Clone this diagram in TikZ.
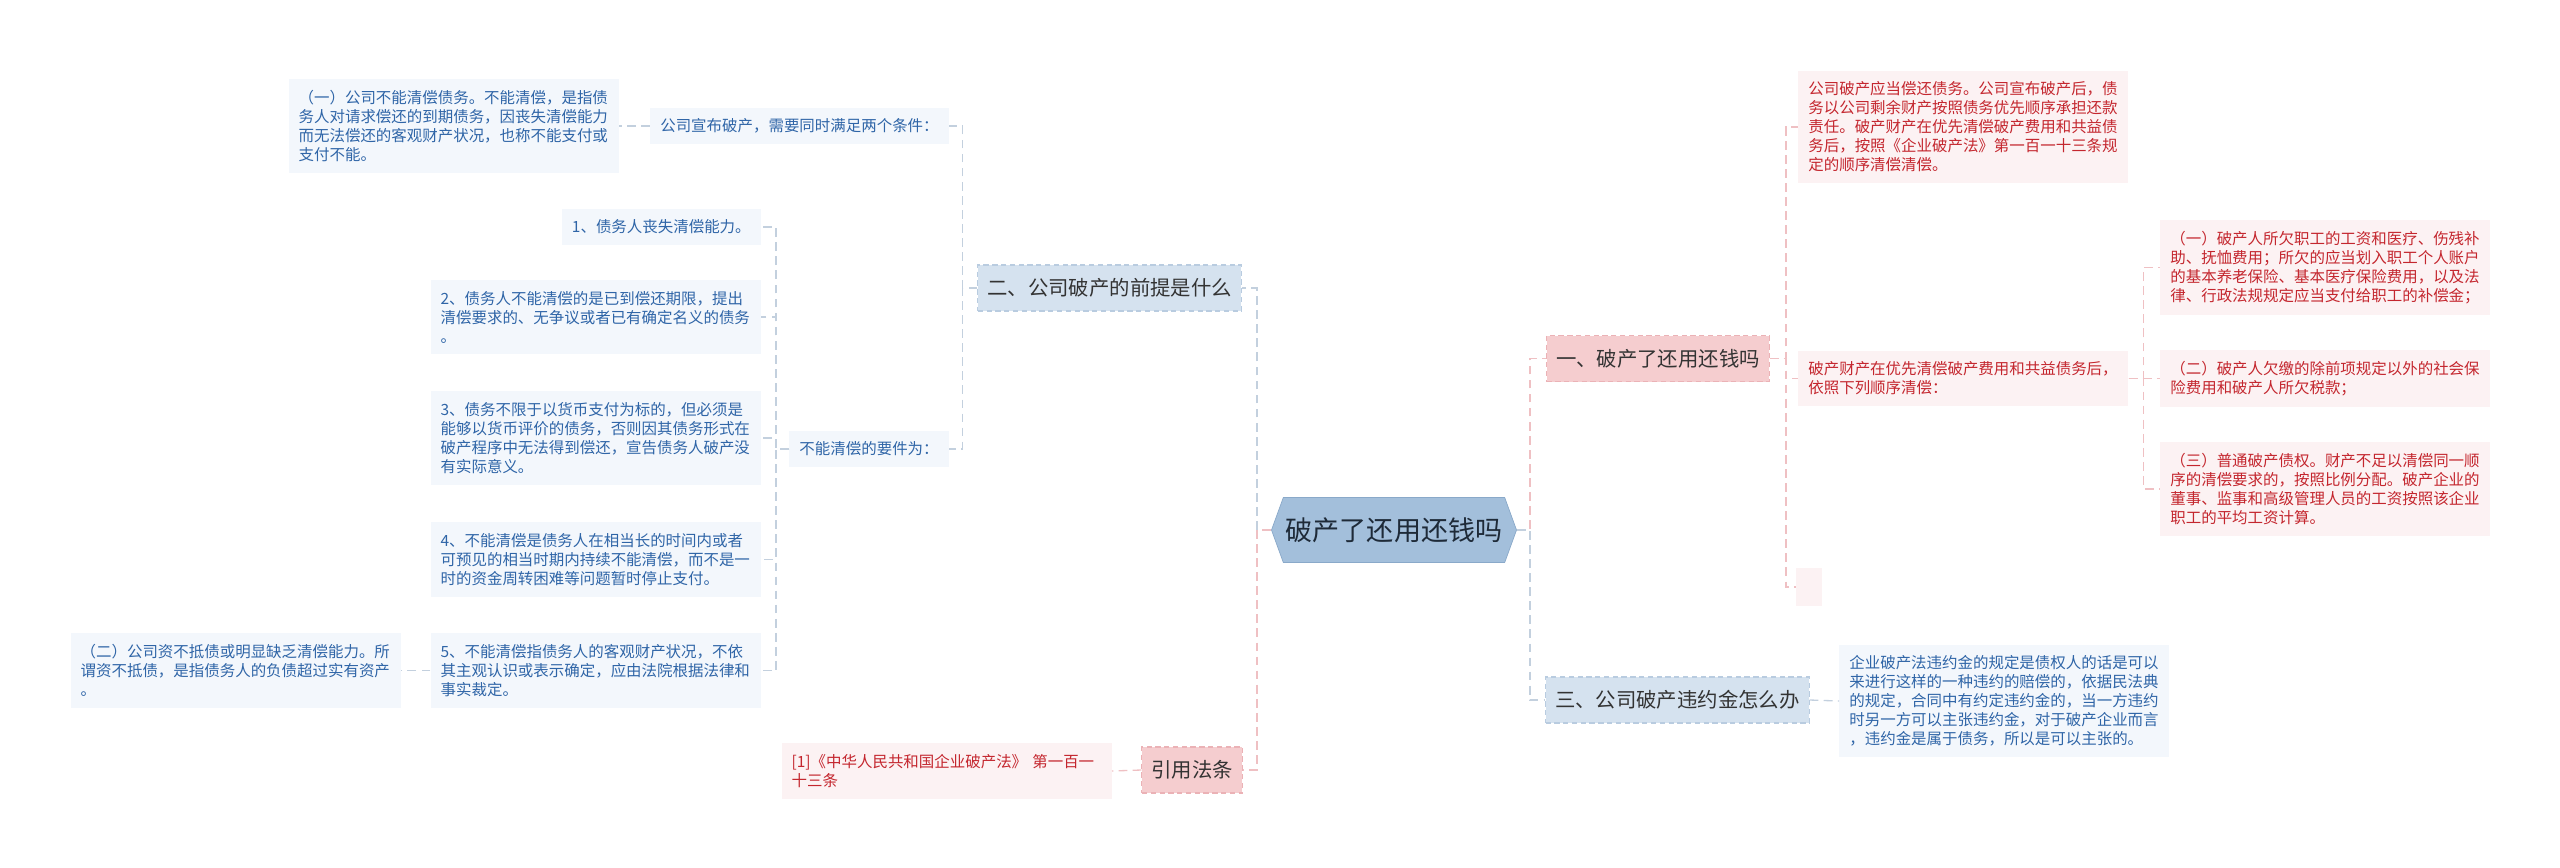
\documentclass[tikz,border=0pt]{standalone}
\usepackage{fontspec}
\setmainfont{Noto Sans CJK SC}
\usepackage{xcolor}
\usepackage{tikz}
\usetikzlibrary{shapes.symbols, positioning}

\definecolor{hubfill}{HTML}{A3BFDB}
\definecolor{hubline}{HTML}{8AA9C9}
\definecolor{hubtext}{HTML}{1E2A38}
\definecolor{topictext}{HTML}{333333}
\definecolor{bluefill}{HTML}{D5E2EF}
\definecolor{blueline}{HTML}{B9CCE0}
\definecolor{redfill}{HTML}{F5CDCF}
\definecolor{redline}{HTML}{EBB2B6}
\definecolor{leafbluefill}{HTML}{F3F7FC}
\definecolor{leafbluetext}{HTML}{2F65A7}
\definecolor{leafredfill}{HTML}{FCF2F3}
\definecolor{leafredtext}{HTML}{C4262E}
\definecolor{wireblue}{HTML}{C3D0DE}
\definecolor{wirered}{HTML}{EFC0C3}

\begin{document}
\begin{tikzpicture}
    % Define styles
    \tikzstyle{hub} = [signal, signal to=east and west, signal pointer angle=140, draw=hubline, fill=hubfill, minimum width=4.9cm, minimum height=1.3cm, inner sep=0pt, text=hubtext, font=\fontsize{15.4}{18}\selectfont]
    \tikzstyle{topicblue} = [rectangle, draw=blueline, fill=bluefill, dash pattern=on 3pt off 2pt, line width=0.6pt, minimum height=0.92cm, inner xsep=0.19cm, text=topictext, font=\fontsize{11.6}{14}\selectfont]
    \tikzstyle{topicred} = [rectangle, draw=redline, fill=redfill, dash pattern=on 3pt off 2pt, line width=0.6pt, minimum height=0.92cm, inner xsep=0.19cm, text=topictext, font=\fontsize{11.6}{14}\selectfont]
    \tikzstyle{leafblue} = [rectangle, fill=leafbluefill, text=leafbluetext, inner xsep=0.2cm, inner ysep=0.22cm, align=left, font=\fontsize{8.8}{10.8}\selectfont]
    \tikzstyle{leafred} = [rectangle, fill=leafredfill, text=leafredtext, inner xsep=0.2cm, inner ysep=0.22cm, align=left, font=\fontsize{8.8}{10.8}\selectfont]
    \tikzstyle{wide} = [text width=6.2cm]
    \tikzstyle{linkblue} = [draw=wireblue, line width=0.75pt, dash pattern=on 5pt off 3pt]
    \tikzstyle{linkred} = [draw=wirered, line width=0.75pt, dash pattern=on 5pt off 3pt]

    \useasboundingbox (0,0) rectangle (51.2,-17.34);

    % Central topic
    \node[hub] (root) at (27.88,-10.6) {破产了还用还钱吗};

    % Branch: 二、公司破产的前提是什么
    \node[topicblue, anchor=east] (qianti) at (24.84,-5.76) {二、公司破产的前提是什么};
    \node[leafblue, anchor=east] (tiaojian) at (18.98,-2.52) {公司宣布破产，需要同时满足两个条件：};
    \node[leafblue, wide, anchor=east] (buneng) at (12.38,-2.52) {（一）公司不能清偿债务。不能清偿，是指债\\务人对请求偿还的到期债务，因丧失清偿能力\\而无法偿还的客观财产状况，也称不能支付或\\支付不能。};
    \node[leafblue, anchor=east] (yaojian) at (18.98,-8.98) {不能清偿的要件为：};
    \node[leafblue, anchor=east] (yj1) at (15.22,-4.54) {1、债务人丧失清偿能力。};
    \node[leafblue, wide, anchor=east] (yj2) at (15.22,-6.34) {2、债务人不能清偿的是已到偿还期限，提出\\清偿要求的、无争议或者已有确定名义的债务\\。};
    \node[leafblue, wide, anchor=east] (yj3) at (15.22,-8.76) {3、债务不限于以货币支付为标的，但必须是\\能够以货币评价的债务，否则因其债务形式在\\破产程序中无法得到偿还，宣告债务人破产没\\有实际意义。};
    \node[leafblue, wide, anchor=east] (yj4) at (15.22,-11.19) {4、不能清偿是债务人在相当长的时间内或者\\可预见的相当时期内持续不能清偿，而不是一\\时的资金周转困难等问题暂时停止支付。};
    \node[leafblue, wide, anchor=east] (yj5) at (15.22,-13.41) {5、不能清偿指债务人的客观财产状况，不依\\其主观认识或表示确定，应由法院根据法律和\\事实裁定。};
    \node[leafblue, wide, anchor=east] (zibudi) at (8.02,-13.41) {（二）公司资不抵债或明显缺乏清偿能力。所\\谓资不抵债，是指债务人的负债超过实有资产\\。};

    % Branch: 引用法条
    \node[topicred, anchor=east] (yinyong) at (24.86,-15.4) {引用法条};
    \node[leafred, wide, anchor=east] (fatiao) at (22.24,-15.42) {[1]《中华人民共和国企业破产法》 第一百一\\十三条};

    % Branch: 一、破产了还用还钱吗
    \node[topicred, anchor=west] (huanqian) at (30.92,-7.17) {一、破产了还用还钱吗};
    \node[leafred, wide, anchor=west] (changhuan) at (35.96,-2.54) {公司破产应当偿还债务。公司宣布破产后，债\\务以公司剩余财产按照债务优先顺序承担还款\\责任。破产财产在优先清偿破产费用和共益债\\务后，按照《企业破产法》第一百一十三条规\\定的顺序清偿清偿。};
    \node[leafred, wide, anchor=west] (shunxu) at (35.96,-7.57) {破产财产在优先清偿破产费用和共益债务后，\\依照下列顺序清偿：};
    \node[leafred, anchor=west, minimum width=0.52cm, minimum height=0.76cm] (kong) at (35.92,-11.74) {};
    \node[leafred, wide, anchor=west] (sx1) at (43.2,-5.35) {（一）破产人所欠职工的工资和医疗、伤残补\\助、抚恤费用；所欠的应当划入职工个人账户\\的基本养老保险、基本医疗保险费用，以及法\\律、行政法规规定应当支付给职工的补偿金；};
    \node[leafred, wide, anchor=west] (sx2) at (43.2,-7.57) {（二）破产人欠缴的除前项规定以外的社会保\\险费用和破产人所欠税款；};
    \node[leafred, wide, anchor=west] (sx3) at (43.2,-9.78) {（三）普通破产债权。财产不足以清偿同一顺\\序的清偿要求的，按照比例分配。破产企业的\\董事、监事和高级管理人员的工资按照该企业\\职工的平均工资计算。};

    % Branch: 三、公司破产违约金怎么办
    \node[topicblue, anchor=west] (weiyue) at (30.9,-14.0) {三、公司破产违约金怎么办};
    \node[leafblue, wide, anchor=west] (weiyuejin) at (36.78,-14.02) {企业破产法违约金的规定是债权人的话是可以\\来进行这样的一种违约的赔偿的，依据民法典\\的规定，合同中有约定违约金的，当一方违约\\时另一方可以主张违约金，对于破产企业而言\\，违约金是属于债务，所以是可以主张的。};

    % Connectors
    \draw[linkblue] (root.west) -- ++(-0.28,0) |- (qianti.east);
    \draw[linkred] (root.west) -- ++(-0.28,0) |- (yinyong.east);
    \draw[linkblue] (qianti.west) -- ++(-0.3,0) |- (tiaojian.east);
    \draw[linkblue] (qianti.west) -- ++(-0.3,0) |- (yaojian.east);
    \draw[linkblue] (tiaojian.west) -- (buneng.east);
    \draw[linkblue] (yaojian.west) -- ++(-0.26,0) |- (yj1.east);
    \draw[linkblue] (yaojian.west) -- ++(-0.26,0) |- (yj2.east);
    \draw[linkblue] (yaojian.west) -- ++(-0.26,0) |- (yj3.east);
    \draw[linkblue] (yaojian.west) -- ++(-0.26,0) |- (yj4.east);
    \draw[linkblue] (yaojian.west) -- ++(-0.26,0) |- (yj5.east);
    \draw[linkblue] (yj5.west) -- (zibudi.east);
    \draw[linkred] (yinyong.west) -- (fatiao.east);

    \draw[linkred] (root.east) -- ++(0.26,0) |- (huanqian.west);
    \draw[linkblue] (root.east) -- ++(0.26,0) |- (weiyue.west);
    \draw[linkred] (huanqian.east) -- ++(0.32,0) |- (changhuan.west);
    \draw[linkred] (huanqian.east) -- ++(0.32,0) |- (shunxu.west);
    \draw[linkred] (huanqian.east) -- ++(0.32,0) |- (kong.west);
    \draw[linkred] (shunxu.east) -- ++(0.3,0) |- (sx1.west);
    \draw[linkred] (shunxu.east) -- ++(0.3,0) |- (sx2.west);
    \draw[linkred] (shunxu.east) -- ++(0.3,0) |- (sx3.west);
    \draw[linkblue] (weiyue.east) -- (weiyuejin.west);

\end{tikzpicture}
\end{document}
